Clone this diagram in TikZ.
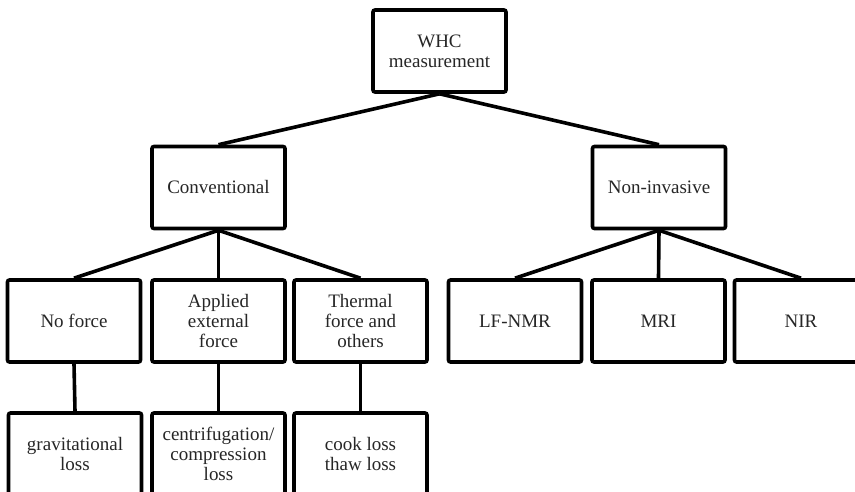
\documentclass[tikz,border=0pt]{standalone}
\usepackage{fontspec}
\setmainfont{Liberation Serif}
\begin{document}
\begin{tikzpicture}[x=1pt,y=-1pt,
  box/.style={draw=black, line width=3.6pt, rounded corners=2pt, fill=white,
    minimum width=133pt, minimum height=82pt, inner sep=0pt, align=center,
    font=\fontsize{19}{19.8}\selectfont, text=black!85},
  link/.style={line width=3.6pt, black}]
\useasboundingbox (0,0) rectangle (855,492);
\clip (0,0) rectangle (855,492);
\node[box] (whc) at (439.5,51) {WHC\\measurement};
\node[box] (conv) at (218.5,187.5) {Conventional};
\node[box] (noninv) at (659,187.5) {Non-invasive};
\node[box] (nof) at (74,321) {No force};
\node[box] (app) at (218.5,321) {Applied\\external\\force};
\node[box] (therm) at (360.5,321) {Thermal\\force and\\others};
\node[box] (lf) at (515,321) {LF-NMR};
\node[box] (mri) at (658.5,321) {MRI};
\node[box] (nir) at (801,321) {NIR};
\node[box] (grav) at (75,454) {gravitational\\loss};
\node[box] (cent) at (218.5,454) {centrifugation/\\compression\\loss};
\node[box] (cook) at (360.5,454) {cook loss\\thaw loss};
\draw[link] (whc.south) -- (conv.north);
\draw[link] (whc.south) -- (noninv.north);
\draw[link] (conv.south) -- (nof.north);
\draw[link] (conv.south) -- (app.north);
\draw[link] (conv.south) -- (therm.north);
\draw[link] (noninv.south) -- (lf.north);
\draw[link] (noninv.south) -- (mri.north);
\draw[link] (noninv.south) -- (nir.north);
\draw[link] (nof.south) -- (grav.north);
\draw[link] (app.south) -- (cent.north);
\draw[link] (therm.south) -- (cook.north);
\end{tikzpicture}
\end{document}
